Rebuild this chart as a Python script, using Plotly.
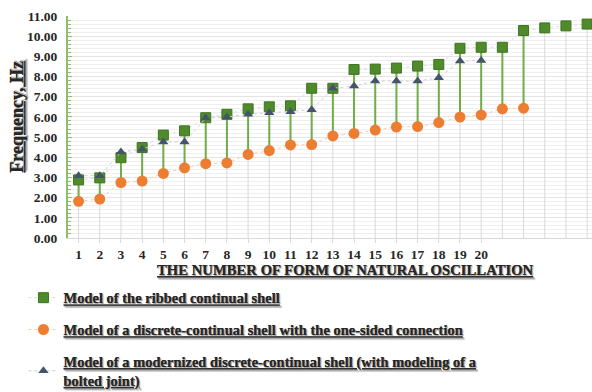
import plotly.graph_objects as go

# Natural oscillation frequencies (Hz) for each mode number
modes = list(range(1, 26))
ribbed = [2.88, 2.98, 3.98, 4.48, 5.10, 5.31, 5.96, 6.13, 6.40, 6.50, 6.55, 7.42, 7.42,
          8.35, 8.37, 8.42, 8.52, 8.60, 9.40, 9.45, 9.45, 10.28, 10.41, 10.51, 10.60]
one_sided = [1.82, 1.93, 2.75, 2.82, 3.20, 3.48, 3.68, 3.72, 4.14, 4.33, 4.61, 4.63,
             5.06, 5.18, 5.35, 5.50, 5.52, 5.72, 5.99, 6.10, 6.40, 6.43]
bolted = [3.09, 3.09, 4.26, 4.40, 4.76, 4.76, 5.94, 5.99, 6.13, 6.21, 6.26, 6.35, 7.42,
          7.53, 7.78, 7.78, 7.78, 7.94, 8.77, 8.80]
tick_labels = [str(i) for i in range(1, 21)]

names = [
    "Model of the ribbed continual shell",
    "Model of a discrete-continual shell with the one-sided connection",
    "Model of a modernized discrete-continual shell (with modeling of a<br>bolted joint)",
]
x_title = "THE NUMBER OF FORM OF NATURAL OSCILLATION"
y_title = "Frequency, Hz"

SERIF = "Liberation Serif"
TXT = "#262626"
SHADOW = "1px 1px 1px #aaaaaa"

fig = go.Figure()

# drop lines from the highest value of each mode down to the axis
dx, dy = [], []
for i, m in enumerate(modes):
    vals = [ribbed[i]]
    if i < len(one_sided):
        vals.append(one_sided[i])
    if i < len(bolted):
        vals.append(bolted[i])
    dx += [m, m, None]
    dy += [0, max(vals), None]
fig.add_trace(go.Scatter(x=dx, y=dy, mode="lines", line=dict(color="#d9d9d9", width=1),
                         showlegend=False, hoverinfo="skip"))

# high-low lines between the series
hx, hy = [], []
for i in range(len(one_sided)):
    vals = [ribbed[i], one_sided[i]]
    if i < len(bolted):
        vals.append(bolted[i])
    hx += [modes[i], modes[i], None]
    hy += [min(vals), max(vals), None]
fig.add_trace(go.Scatter(x=hx, y=hy, mode="lines", line=dict(color="#70ad47", width=2),
                         showlegend=False, hoverinfo="skip"))

fig.add_trace(go.Scatter(
    x=modes, y=ribbed, name=names[0], mode="lines+markers", legendgroup="a",
    line=dict(color="#dcdcdc", width=1, dash="dot"),
    marker=dict(symbol="square", size=10, color="#4f8a2b", line=dict(color="#3f7420", width=1)),
    cliponaxis=False))
fig.add_trace(go.Scatter(
    x=modes[:len(one_sided)], y=one_sided, name=names[1], mode="lines+markers", legendgroup="b",
    line=dict(color="#f8cbad", width=1, dash="dot"),
    marker=dict(symbol="circle", size=11, color="#ed7d31"),
    cliponaxis=False))
fig.add_trace(go.Scatter(
    x=modes[:len(bolted)], y=bolted, name=names[2], mode="lines+markers", legendgroup="c",
    line=dict(color="#cfcfcf", width=1, dash="dot"),
    marker=dict(symbol="triangle-up", size=9, color="#44546a"),
    cliponaxis=False))

title_font = dict(family=SERIF, color=TXT, weight="bold", lineposition="under", shadow=SHADOW)

fig.update_layout(
    width=592, height=392,
    margin=dict(l=68, r=0, t=16, b=154, autoexpand=False),
    plot_bgcolor="white", paper_bgcolor="white",
    font=dict(family=SERIF, color=TXT),
    legend=dict(
        x=-0.085, y=-0.197, xanchor="left", yanchor="top",
        orientation="v", tracegroupgap=10, itemwidth=30,
        font=dict(size=14.5, **title_font),
    ),
    xaxis=dict(
        range=[0.5, 25.23], tickmode="array", tickvals=list(range(1, 21)), ticktext=tick_labels,
        showgrid=False, zeroline=False, showline=True, linecolor="#d9d9d9", linewidth=1,
        ticks="outside", ticklen=4, tickcolor="#d9d9d9", automargin=False,
        ticklabelstandoff=0,
        tickfont=dict(family=SERIF, size=13.5, color=TXT, weight="bold"),
    ),
    yaxis=dict(
        range=[0, 11], dtick=1, tickformat=".2f", zeroline=False,
        showgrid=True, gridcolor="#e4e4e4", gridwidth=1,
        showline=True, linecolor="#8cbf6a", linewidth=2,
        ticks="inside", ticklen=4, tickcolor="#8cbf6a", automargin=False,
        ticklabelstandoff=6,
        minor=dict(dtick=0.2, showgrid=True, gridcolor="#efefef", ticks="inside",
                   ticklen=3, tickcolor="#8cbf6a"),
        tickfont=dict(family=SERIF, size=13.5, color=TXT, weight="bold"),
    ),
    annotations=[
        dict(text=x_title, xref="paper", yref="paper", x=0.529, y=-0.143,
             xanchor="center", yanchor="middle", showarrow=False,
             font=dict(size=14.7, **title_font)),
        dict(text=y_title, xref="paper", yref="paper", x=-0.098, y=0.545,
             xanchor="center", yanchor="middle", showarrow=False, textangle=-90,
             font=dict(size=18, **title_font)),
    ],
)

fig.write_html("out.html")
